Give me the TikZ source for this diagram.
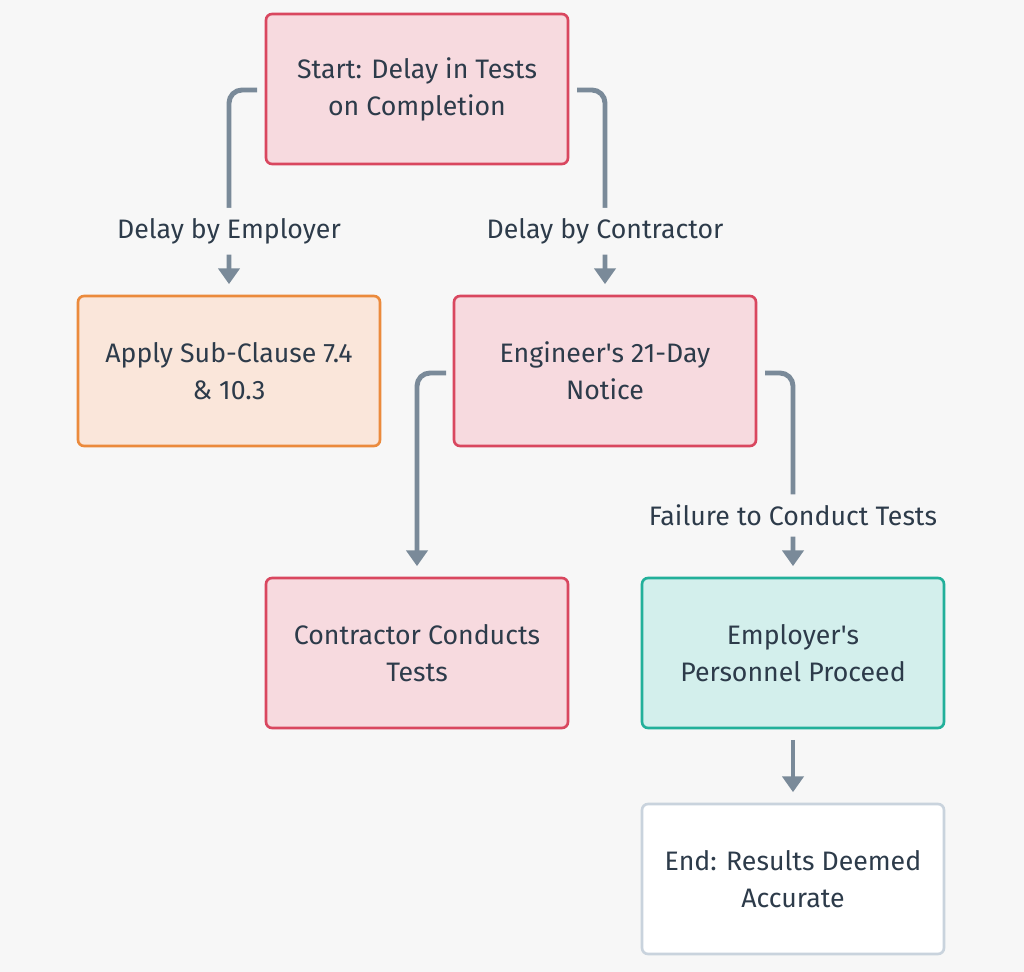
\documentclass[tikz,border=0pt]{standalone}
\usepackage{fontspec}
\setmainfont{Fira Sans}
\usetikzlibrary{arrows.meta,positioning}
\definecolor{bg}{HTML}{F7F7F7}
\definecolor{ink}{HTML}{2D3B4A}
\definecolor{wire}{HTML}{7A8A99}
\definecolor{redfill}{HTML}{F7DADF}
\definecolor{redline}{HTML}{D9475F}
\definecolor{orangefill}{HTML}{FAE6DA}
\definecolor{orangeline}{HTML}{EB8A3C}
\definecolor{tealfill}{HTML}{D3EFEC}
\definecolor{tealline}{HTML}{22B09A}
\definecolor{greyline}{HTML}{C9D3DD}

\begin{document}
\begin{tikzpicture}[
    x=0.02cm,y=-0.02cm,
    >={Triangle[length=9pt,width=12pt]},
    font=\fontsize{15.2}{21}\selectfont,
    box/.style={rectangle,draw,line width=1.5pt,rounded corners=1.2mm,
        minimum width=6.04cm,minimum height=3cm,align=center,text=ink},
    redbox/.style={box,fill=redfill,draw=redline},
    orangebox/.style={box,fill=orangefill,draw=orangeline},
    tealbox/.style={box,fill=tealfill,draw=tealline},
    endbox/.style={box,fill=white,draw=greyline},
    wire/.style={->,draw=wire,line width=2.8pt,rounded corners=2.6mm,shorten >=6pt},
    tag/.style={fill=bg,text=ink,inner xsep=2pt,inner ysep=6pt}
  ]

    \fill[bg] (0,0) rectangle (1024,972);

    \node (start)      [redbox]    at (417,89)  {Start: Delay in Tests\\on Completion};
    \node (apply)      [orangebox] at (229,371) {Apply Sub-Clause 7.4\\\& 10.3};
    \node (notice)     [redbox]    at (605,371) {Engineer\textquotesingle s 21-Day\\Notice};
    \node (conducts)   [redbox]    at (417,653) {Contractor Conducts\\Tests};
    \node (personnel)  [tealbox]   at (793,653) {Employer\textquotesingle s\\Personnel Proceed};
    \node (accurate)   [endbox]    at (793,879) {End: Results Deemed\\Accurate};

    \coordinate (s left)  at (257,90);
    \coordinate (s right) at (577,90);
    \coordinate (n left)  at (446,373);
    \coordinate (n right) at (765,373);

    \draw[wire] (s left) -| node[tag,pos=0.845] {Delay by Employer} (apply.north);
    \draw[wire] (s right) -| node[tag,pos=0.845] {Delay by Contractor} (notice.north);
    \draw[wire] (n left) -| (conducts.north);
    \draw[wire] (n right) -| node[tag,pos=0.85] {Failure to Conduct Tests} (personnel.north);
    \draw[wire,shorten <=6pt] (personnel.south) -- (accurate.north);
\end{tikzpicture}
\end{document}
